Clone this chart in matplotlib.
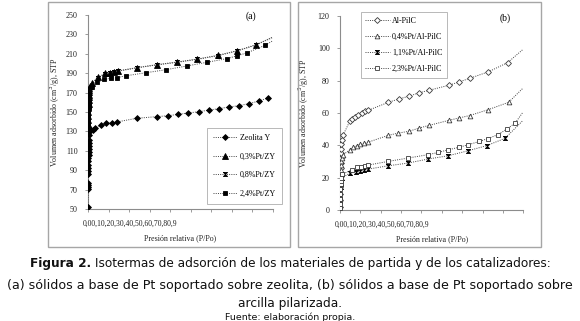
import matplotlib
matplotlib.use("Agg")
import matplotlib.pyplot as plt
from matplotlib.patches import Rectangle

# ---- panel (a): zeolita ----
zy_x = [0.0005, 0.0008, 0.001, 0.0012, 0.0014, 0.0016, 0.0018, 0.002, 0.0022, 0.0024,
        0.0026, 0.0028, 0.003, 0.0032, 0.0034, 0.0036, 0.0038, 0.004, 0.0045, 0.005,
        0.006, 0.025, 0.038, 0.069, 0.10, 0.128, 0.155, 0.263, 0.371, 0.434, 0.488,
        0.542, 0.60, 0.654, 0.708, 0.762, 0.816, 0.87, 0.924, 0.971]
zy_y = [52, 71, 73, 75, 77, 86, 89, 92, 95, 100, 103, 106, 109, 112, 115, 118, 121, 126,
        129, 131, 133, 131, 134, 136.6, 138.4, 139, 139.7, 143.5, 145.2, 146.2, 147.6,
        149, 150.3, 152, 153.4, 155.2, 156.5, 158.6, 161.3, 164.4]

pt03_x = [0.0005, 0.001, 0.0015, 0.002, 0.0025, 0.003, 0.0035, 0.004, 0.0045, 0.005,
          0.006, 0.008, 0.012, 0.02, 0.056, 0.092, 0.119, 0.142, 0.16, 0.263, 0.371,
          0.481, 0.591, 0.701, 0.807, 0.908, 0.995]
pt03_y = [138, 142, 146, 150, 154, 158, 162, 165, 168, 171, 173, 175, 177, 180, 185.8,
          189.9, 190.5, 191.2, 192.3, 195.7, 198.8, 201.5, 204.6, 208.4, 213.2, 219.4, 227]

pt08_x = [0.001, 0.002, 0.003, 0.004, 0.006, 0.012, 0.056, 0.092, 0.119, 0.142, 0.16,
          0.263, 0.371, 0.481, 0.591, 0.701, 0.807, 0.908, 0.995]
pt08_y = [140, 148, 156, 163, 172, 176, 185.5, 189.5, 190.2, 191, 192, 195.5, 198.5,
          201.2, 204.3, 208, 213, 219, 226.5]

pt24_x = [0.0005, 0.001, 0.0015, 0.002, 0.0025, 0.003, 0.0035, 0.004, 0.005, 0.007,
          0.02, 0.047, 0.088, 0.124, 0.155, 0.207, 0.314, 0.422, 0.533, 0.642, 0.75,
          0.807, 0.861, 0.957, 0.995]
pt24_y = [134, 138, 142, 146, 150, 154, 158, 162, 166, 170, 176, 180.6, 183.7, 184.7,
          185.4, 187.4, 190.5, 193.6, 197.4, 201.2, 205, 208, 211.1, 218.8, 223]

# ---- panel (b): arcilla pilarizada ----
alp_x = [0.0003, 0.0006, 0.001, 0.0015, 0.002, 0.0025, 0.003, 0.0035, 0.004, 0.005,
         0.006, 0.008, 0.012, 0.018, 0.055, 0.067, 0.082, 0.10, 0.118, 0.137, 0.155,
         0.264, 0.322, 0.377, 0.432, 0.488, 0.596, 0.652, 0.707, 0.81, 0.914, 0.995]
alp_y = [2, 6, 10, 14, 18, 22, 26, 29, 32, 35, 38, 41, 43.5, 46.6, 55.3, 56.3, 57.6,
         58.8, 60, 61, 61.7, 66.6, 68.7, 70.4, 72.5, 74.1, 77.2, 79.3, 81.4, 85.5, 91.1, 99]

p04_x = [0.0003, 0.0006, 0.001, 0.0015, 0.002, 0.003, 0.004, 0.005, 0.007, 0.01, 0.015,
         0.055, 0.073, 0.091, 0.109, 0.131, 0.155, 0.264, 0.319, 0.377, 0.432, 0.488,
         0.596, 0.652, 0.707, 0.81, 0.92, 0.995]
p04_y = [3, 7, 11, 15, 19, 22, 25, 28, 30, 32, 34, 37.3, 38.9, 39.8, 40.6, 41.2, 42,
         46.2, 47.6, 48.7, 50.7, 52.4, 55.5, 57, 58.4, 62.1, 66.6, 75]

p11_x = [0.0003, 0.0006, 0.001, 0.0015, 0.002, 0.003, 0.004, 0.006, 0.01, 0.055, 0.086,
         0.109, 0.131, 0.155, 0.26, 0.37, 0.479, 0.588, 0.698, 0.80, 0.90, 0.995]
p11_y = [0.5, 3, 6, 9, 12, 14, 16, 18, 20, 22.8, 23.8, 24.2, 24.8, 25.3, 27.3, 29, 31.5,
         33.5, 36.6, 39.8, 44.3, 55]

p23_x = [0.0003, 0.0006, 0.001, 0.0015, 0.002, 0.003, 0.004, 0.006, 0.01, 0.064, 0.091,
         0.115, 0.137, 0.155, 0.26, 0.37, 0.479, 0.537, 0.592, 0.647, 0.701, 0.76, 0.805,
         0.862, 0.911, 0.956, 0.995]
p23_y = [1, 4, 7, 10, 13, 16, 18, 20, 22, 24.8, 26.5, 26.9, 27.3, 27.8, 30, 32.1, 34.2,
         35.6, 37.3, 38.7, 40.4, 42.4, 44.1, 46.6, 50.1, 53.8, 60]

SERIF = ["Liberation Serif", "DejaVu Serif"]
HOURGLASS = [(-1, 1), (1, 1), (-1, -1), (1, -1), (-1, 1)]
AX_GREY = "#8c8c8c"
TXT = "#222222"
FS = 5.8
TICK_TEXT = "0,00,10,20,30,40,50,60,70,80,9"

fig = plt.figure(figsize=(5.8, 3.21), dpi=100)


def style_axes(ax, ylim, yticks):
    ax.set_xlim(0, 1)
    ax.set_ylim(*ylim)
    ax.set_yticks(yticks)
    ax.set_xticks([i / 9 for i in range(10)])
    ax.set_xticklabels([])
    for s in ["top", "right"]:
        ax.spines[s].set_visible(False)
    for s in ["left", "bottom"]:
        ax.spines[s].set_color(AX_GREY)
        ax.spines[s].set_linewidth(0.8)
    ax.tick_params(axis="both", colors=AX_GREY, length=2.5, width=0.6, direction="out")
    ax.tick_params(axis="y", labelcolor=TXT, labelsize=FS, pad=5)
    for lab in ax.get_yticklabels():
        lab.set_family(SERIF)
    ax.text(-0.03, -0.075, TICK_TEXT, transform=ax.transAxes, ha="left", va="center",
            fontsize=FS - 0.3, family=SERIF, color=TXT)
    ax.text(0.5, -0.15, "Presión relativa (P/Po)", transform=ax.transAxes, ha="center",
            va="center", fontsize=FS, family=SERIF, color=TXT)


def series(ax, x, y, marker, label, ms, filled, last_marker=True, z=3):
    n = len(x)
    mev = list(range(n)) if last_marker else list(range(n - 1))
    face = "black" if filled else "white"
    edge = "black" if filled else "#3a3a3a"
    ax.plot(x, y, linestyle=(0, (1, 1.3)), color="#444444", linewidth=0.7,
            marker=marker, markersize=ms, markerfacecolor=face, markeredgecolor=edge,
            markeredgewidth=0.6, markevery=mev, label=label, zorder=z)


# panel (a)
ax1 = fig.add_axes([0.1517, 0.3489, 0.319, 0.6044])
style_axes(ax1, (50, 250), range(50, 251, 20))
series(ax1, zy_x, zy_y, "D", "Zeolita Y", 3.0, True)
series(ax1, pt08_x, pt08_y, HOURGLASS, "0,8%Pt/ZY", 3.0, True, False, z=2)
series(ax1, pt03_x, pt03_y, "^", "0,3%Pt/ZY", 3.8, True, False, z=3)
series(ax1, pt24_x, pt24_y, "s", "2,4%Pt/ZY", 3.4, True, False, z=3)
h, l = ax1.get_legend_handles_labels()
order = [l.index(k) for k in ["Zeolita Y", "0,3%Pt/ZY", "0,8%Pt/ZY", "2,4%Pt/ZY"]]
leg1 = ax1.legend([h[i] for i in order], [l[i] for i in order],
                  loc="upper left", bbox_to_anchor=(0.62, 0.44), frameon=True,
                  fancybox=False, edgecolor="#999999", borderpad=0.8, labelspacing=1.3,
                  handlelength=3.0, handletextpad=0.3, prop={"family": SERIF, "size": FS})
leg1.get_frame().set_linewidth(0.6)
ax1.text(0.88, 0.995, "(a)", transform=ax1.transAxes, ha="center", va="center",
         fontsize=7, family=SERIF)
ax1.set_ylabel("Volumen adsorbido (cm$^3$/g), STP", fontsize=FS, family=SERIF,
               color=TXT, labelpad=3)

# panel (b)
ax2 = fig.add_axes([0.5862, 0.3458, 0.316, 0.6044])
style_axes(ax2, (0, 120), range(0, 121, 20))
series(ax2, alp_x, alp_y, "D", "Al-PilC", 3.0, False, False)
series(ax2, p04_x, p04_y, "^", "0,4%Pt/Al-PilC", 3.4, False, False)
series(ax2, p11_x, p11_y, HOURGLASS, "1,1%Pt/Al-PilC", 3.0, True, False)
series(ax2, p23_x, p23_y, "s", "2,3%Pt/Al-PilC", 3.2, False, False)
leg2 = ax2.legend(loc="upper left", bbox_to_anchor=(0.09, 1.04), frameon=True,
                  fancybox=False, edgecolor="#999999", borderpad=0.6, labelspacing=1.0,
                  handlelength=3.0, handletextpad=0.3, prop={"family": SERIF, "size": FS})
leg2.get_frame().set_linewidth(0.6)
ax2.text(0.9, 0.99, "(b)", transform=ax2.transAxes, ha="center", va="center",
         fontsize=7, family=SERIF)
ax2.set_ylabel("Volumen adsorbido (cm$^3$/g), STP", fontsize=FS, family=SERIF,
               color=TXT, labelpad=5)

# panel frames
for x0, w in [(0.0828, 0.417), (0.5138, 0.419)]:
    fig.patches.append(Rectangle((x0, 0.2305), w, 0.763, transform=fig.transFigure,
                                 fill=False, edgecolor="#a6a6a6", linewidth=1.0))

# caption
cap_y1 = 1 - 263 / 321
t_bold = fig.text(0, cap_y1, "Figura 2.", fontsize=8.7, fontweight="bold",
                  ha="left", va="center", color="#111111")
t_rest = fig.text(0, cap_y1,
                  " Isotermas de adsorción de los materiales de partida y de los catalizadores:",
                  fontsize=8.7, ha="left", va="center", color="#111111")
fig.canvas.draw()
wb = t_bold.get_window_extent().width
w_total = wb + t_rest.get_window_extent().width
start = (580 - w_total) / 2
t_bold.set_x(start / 580)
t_rest.set_x((start + wb) / 580)

fig.text(0.5, 1 - 285 / 321,
         "(a) sólidos a base de Pt soportado sobre zeolita, (b) sólidos a base de Pt soportado sobre",
         fontsize=9.1, ha="center", va="center", color="#111111")
fig.text(0.5, 1 - 304 / 321, "arcilla pilarizada.", fontsize=8.8, ha="center",
         va="center", color="#111111")
fig.text(0.5, 1 - 317 / 321, "Fuente: elaboración propia.", fontsize=6.8, ha="center",
         va="center", color="#111111")

fig.savefig("out.png", dpi=100)
